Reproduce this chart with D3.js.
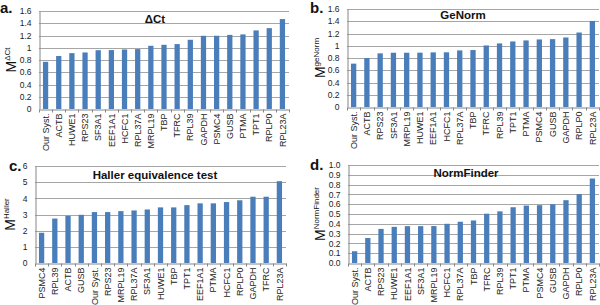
<!DOCTYPE html>
<html>
<head>
<meta charset="utf-8">
<script src="https://cdnjs.cloudflare.com/ajax/libs/d3/7.8.5/d3.min.js"></script>
<style>
  body { margin: 0; background: #fff; }
  svg { display: block; font-family: "Liberation Sans", Arial, sans-serif; }
</style>
</head>
<body>
<div id="chart-container"></div>
<script>
// Panel a: delta Ct
const genesA = ["Our Syst.", "ACTB", "HUWE1", "RPS23", "SF3A1", "EEF1A1", "HCFC1", "RPL37A", "MRPL19", "TBP",
  "TFRC", "RPL39", "GAPDH", "PSMC4", "GUSB", "PTMA", "TPT1", "RPLP0", "RPL23A"];
const valuesA = [0.77, 0.865, 0.912, 0.923, 0.96, 0.962, 0.972, 0.978, 1.032, 1.048,
  1.06, 1.13, 1.195, 1.196, 1.21, 1.218, 1.283, 1.32, 1.468];

// Panel b: geNorm
const genesB = ["Our Syst.", "ACTB", "RPS23", "SF3A1", "MRPL19", "HUWE1", "EEF1A1", "HCFC1", "RPL37A", "TBP",
  "TFRC", "RPL39", "TPT1", "PTMA", "PSMC4", "GUSB", "GAPDH", "RPLP0", "RPL23A"];
const valuesB = [0.708, 0.8, 0.876, 0.886, 0.886, 0.887, 0.892, 0.893, 0.924, 0.93,
  1.005, 1.038, 1.07, 1.087, 1.103, 1.108, 1.135, 1.216, 1.405];

// Panel c: Haller equivalence test
const genesC = ["PSMC4", "RPL39", "ACTB", "GUSB", "Our Syst.", "RPS23", "MRPL19", "RPL37A", "SF3A1", "HUWE1",
  "TBP", "TPT1", "EEF1A1", "PTMA", "HCFC1", "RPLP0", "GAPDH", "TFRC", "RPL23A"];
const valuesC = [1.87, 2.75, 2.92, 2.98, 3.15, 3.15, 3.21, 3.25, 3.31, 3.44,
  3.44, 3.58, 3.69, 3.69, 3.77, 3.88, 4.1, 4.1, 5.06];

// Panel d: NormFinder
const genesD = ["Our Syst.", "ACTB", "RPS23", "HUWE1", "EEF1A1", "SF3A1", "MRPL19", "HCFC1", "RPL37A", "TBP",
  "TFRC", "RPL39", "TPT1", "PTMA", "PSMC4", "GUSB", "GAPDH", "RPLP0", "RPL23A"];
const valuesD = [0.12, 0.255, 0.348, 0.369, 0.376, 0.376, 0.377, 0.4, 0.421, 0.434,
  0.503, 0.527, 0.569, 0.586, 0.59, 0.6, 0.641, 0.703, 0.862];

const yTicksA = [0, 0.2, 0.4, 0.6, 0.8, 1, 1.2, 1.4, 1.6];
const yTicksC = [0, 1, 2, 3, 4, 5, 6];
const yTicksD = [0, 0.1, 0.2, 0.3, 0.4, 0.5, 0.6, 0.7, 0.8, 0.9, 1.0];

const barColor = "#4a7ebb";
const gridColor = "#a6a6a6";
const axisColor = "#868686";

const svg = d3.select("#chart-container")
  .append("svg")
    .attr("width", 600)
    .attr("height", 305);

function drawPanel(p) {
  const g = svg.append("g");

  const x = d3.scaleBand()
    .domain(p.genes)
    .range([p.left, p.right])
    .paddingInner(0.6)
    .paddingOuter(0.3);

  const y = d3.scaleLinear()
    .domain([0, p.yMax])
    .range([p.bottom, p.top]);

  // gridlines
  g.selectAll(".grid")
    .data(p.ticks.filter(d => d > 0))
    .enter().append("line")
      .attr("x1", p.left)
      .attr("x2", p.right)
      .attr("y1", d => Math.round(y(d)) + 0.5)
      .attr("y2", d => Math.round(y(d)) + 0.5)
      .attr("stroke", gridColor)
      .attr("stroke-width", 1);

  // bars
  g.selectAll(".bar")
    .data(p.values)
    .enter().append("rect")
      .attr("x", (d, i) => x(p.genes[i]))
      .attr("y", d => y(d))
      .attr("width", x.bandwidth())
      .attr("height", d => p.bottom - y(d))
      .attr("fill", barColor);

  // y axis
  const yAxis = g.append("g")
    .attr("transform", `translate(${Math.round(p.left) + 0.5},0)`)
    .call(d3.axisLeft(y).tickValues(p.ticks).tickSize(0).tickPadding(8).tickFormat(p.fmt));
  yAxis.select(".domain").attr("stroke", axisColor);
  yAxis.selectAll("text")
    .attr("font-size", "8.5px")
    .attr("font-family", "Liberation Sans, Arial, sans-serif")
    .attr("fill", "#222");

  // x axis
  const xAxis = g.append("g")
    .attr("transform", `translate(0,${Math.round(p.bottom) + 0.5})`)
    .call(d3.axisBottom(x).tickSize(0).tickPadding(0));
  xAxis.select(".domain").attr("stroke", axisColor);
  xAxis.selectAll("text")
    .attr("font-size", "9px")
    .attr("font-family", "Liberation Sans, Arial, sans-serif")
    .attr("fill", "#222")
    .attr("text-anchor", "end")
    .attr("dy", "0.35em")
    .attr("transform", "translate(0,4) rotate(-90)");

  // category separator ticks
  xAxis.selectAll(".sep")
    .data(d3.range(p.genes.length + 1))
    .enter().append("line")
      .attr("x1", i => Math.round(p.left + i * x.step()) + 0.5)
      .attr("x2", i => Math.round(p.left + i * x.step()) + 0.5)
      .attr("y1", 0)
      .attr("y2", 3)
      .attr("stroke", axisColor);

  // title
  g.append("text")
    .attr("x", p.titleX)
    .attr("y", p.titleY)
    .attr("text-anchor", "middle")
    .attr("font-weight", "bold")
    .attr("font-size", "11.5px")
    .attr("fill", "#111")
    .text(p.title);

  // panel letter
  g.append("text")
    .attr("x", p.letterX)
    .attr("y", p.letterY)
    .attr("font-weight", "bold")
    .attr("font-size", "15px")
    .attr("fill", "#111")
    .text(p.letter);

  // y label: M with superscript
  const lab = g.append("text")
    .attr("transform", `translate(${p.labelX},${(p.top + p.bottom) / 2}) rotate(-90)`)
    .attr("text-anchor", "middle")
    .attr("fill", "#111");
  lab.append("tspan").attr("font-size", "14px").text("M");
  lab.append("tspan").attr("font-size", "8px").attr("dy", "-6").text(p.sup);
}

drawPanel({
  genes: genesA, values: valuesA, ticks: yTicksA, yMax: 1.6, fmt: d3.format("~g"),
  left: 39, right: 289, top: 11, bottom: 109,
  title: "\u0394Ct", titleX: 155, titleY: 23,
  letter: "a.", letterX: 0, letterY: 13, labelX: 16, sup: "\u0394Ct"
});

drawPanel({
  genes: genesB, values: valuesB, ticks: yTicksA, yMax: 1.6, fmt: d3.format("~g"),
  left: 347, right: 599, top: 9, bottom: 107,
  title: "GeNorm", titleX: 463, titleY: 19,
  letter: "b.", letterX: 310, letterY: 13, labelX: 325, sup: "geNorm"
});

drawPanel({
  genes: genesC, values: valuesC, ticks: yTicksC, yMax: 6, fmt: d3.format("d"),
  left: 35, right: 286, top: 166, bottom: 263,
  title: "Haller equivalence test", titleX: 155, titleY: 179,
  letter: "c.", letterX: 9, letterY: 171, labelX: 15, sup: "Haller"
});

drawPanel({
  genes: genesD, values: valuesD, ticks: yTicksD, yMax: 1.0, fmt: d3.format(".1f"),
  left: 348, right: 599, top: 165, bottom: 263,
  title: "NormFinder", titleX: 466, titleY: 177,
  letter: "d.", letterX: 310, letterY: 170, labelX: 325, sup: "NormFinder"
});
</script>
</body>
</html>
